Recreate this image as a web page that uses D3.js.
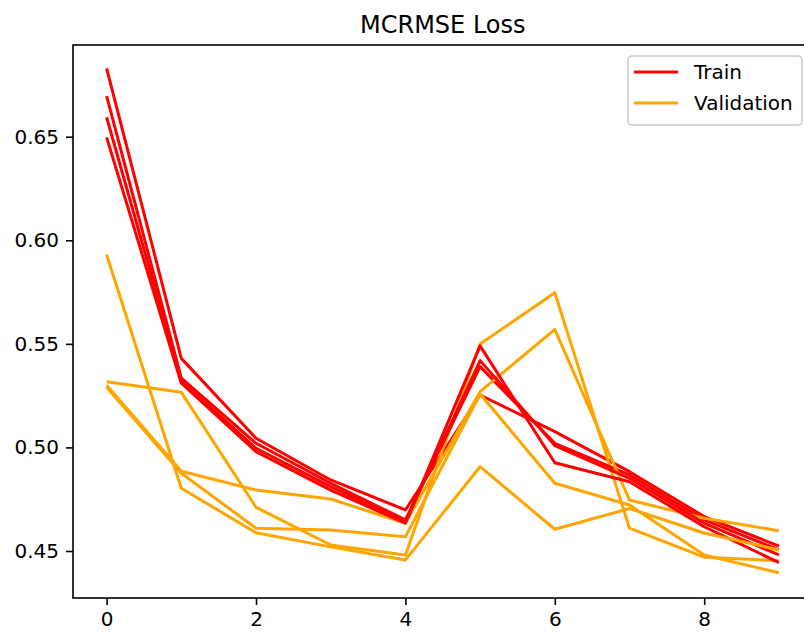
<!DOCTYPE html>
<html>
<head>
<meta charset="utf-8">
<script src="https://cdn.jsdelivr.net/npm/d3@7"></script>
<style>
  html, body { margin: 0; padding: 0; background: #fff; }
  svg { display: block; font-family: "DejaVu Sans", sans-serif; }
</style>
</head>
<body>
<svg id="chart" width="804" height="632"></svg>
<script>
// ---- data ----
const epochs = [0, 1, 2, 3, 4, 5, 6, 7, 8, 9];
const train1 = [0.683, 0.543, 0.5044, 0.4843, 0.4698, 0.5253, 0.5076, 0.4883, 0.4666, 0.4524];
const train2 = [0.6696, 0.5335, 0.502, 0.4827, 0.465, 0.539, 0.502, 0.4867, 0.465, 0.4505];
const train3 = [0.6594, 0.532, 0.4996, 0.4811, 0.4641, 0.5419, 0.5009, 0.4851, 0.4634, 0.4481];
const train4 = [0.6497, 0.531, 0.498, 0.4794, 0.4634, 0.549, 0.4926, 0.4834, 0.4617, 0.4444];
const val1 = [0.5317, 0.5266, 0.4711, 0.4529, 0.4481, 0.5499, 0.5747, 0.461, 0.447, 0.4453];
const val2 = [0.530, 0.4885, 0.4794, 0.4751, 0.4634, 0.5269, 0.557, 0.4746, 0.4658, 0.4598];
const val3 = [0.529, 0.4875, 0.4610, 0.4601, 0.4569, 0.5258, 0.4827, 0.4722, 0.4481, 0.4395];
const val4 = [0.593, 0.4803, 0.4588, 0.452, 0.4457, 0.4907, 0.4605, 0.4705, 0.4587, 0.4505];
const xTicks = [0, 2, 4, 6, 8];
const yTicks = [0.45, 0.50, 0.55, 0.60, 0.65];
const legendLabels = ["Train", "Validation"];
const chartTitle = "MCRMSE Loss";

// ---- layout ----
const svg = d3.select("#chart");
const axLeft = 73, axTop = 45, axBottom = 598, unit = 74.7;
const axRight = axLeft + 9.9 * unit;
const x = d3.scaleLinear().domain([-0.45, 9.45]).range([axLeft, axRight]);
const y = d3.scaleLinear().domain([0.42731, 0.69427]).range([axBottom, axTop]);
const RED = "#ff0000", ORANGE = "#ffa500";

const line = d3.line().x((d, i) => x(epochs[i])).y(d => y(d));

const series = [
  [train1, RED], [val1, ORANGE],
  [train2, RED], [val2, ORANGE],
  [train3, RED], [val3, ORANGE],
  [train4, RED], [val4, ORANGE]
];

const plot = svg.append("g");
series.forEach(([vals, col]) => {
  plot.append("path")
    .datum(vals)
    .attr("d", line)
    .attr("fill", "none")
    .attr("stroke", col)
    .attr("stroke-width", 3)
    .attr("stroke-linejoin", "round")
    .attr("stroke-linecap", "butt");
});

// axes
const xAxis = d3.axisBottom(x).tickValues(xTicks).tickFormat(d3.format("d"))
  .tickSize(7).tickPadding(7);
const yAxis = d3.axisLeft(y).tickValues(yTicks).tickFormat(d3.format(".2f"))
  .tickSize(7).tickPadding(7);

const gx = svg.append("g").attr("transform", `translate(0,${axBottom})`).call(xAxis);
const gy = svg.append("g").attr("transform", `translate(${axLeft},0)`).call(yAxis);
[gx, gy].forEach(g => {
  g.select(".domain").remove();
  g.selectAll(".tick line").attr("stroke", "#000").attr("stroke-width", 1.6);
  g.selectAll(".tick text").attr("fill", "#000").style("font-size", "20px")
    .style("font-family", "DejaVu Sans, sans-serif");
});

// spines
svg.append("rect")
  .attr("x", axLeft).attr("y", axTop)
  .attr("width", axRight - axLeft).attr("height", axBottom - axTop)
  .attr("fill", "none").attr("stroke", "#000").attr("stroke-width", 1.6);

// title
svg.append("text")
  .attr("x", (axLeft + axRight) / 2).attr("y", 33)
  .attr("text-anchor", "middle")
  .style("font-size", "24px")
  .attr("fill", "#000")
  .text(chartTitle);

// legend
const lg = svg.append("g");
lg.append("rect")
  .attr("x", 628).attr("y", 56).attr("width", 174).attr("height", 69)
  .attr("rx", 4).attr("ry", 4)
  .attr("fill", "#fff").attr("fill-opacity", 0.8)
  .attr("stroke", "#cccccc").attr("stroke-width", 1.6);
const legendColors = [RED, ORANGE];
const legendY = [72, 103];
legendLabels.forEach((lab, i) => {
  lg.append("line")
    .attr("x1", 634).attr("x2", 678)
    .attr("y1", legendY[i]).attr("y2", legendY[i])
    .attr("stroke", legendColors[i]).attr("stroke-width", 3);
  lg.append("text")
    .attr("x", 694).attr("y", legendY[i])
    .attr("dy", "0.35em")
    .style("font-size", "20px")
    .attr("fill", "#000")
    .text(lab);
});
</script>
</body>
</html>
